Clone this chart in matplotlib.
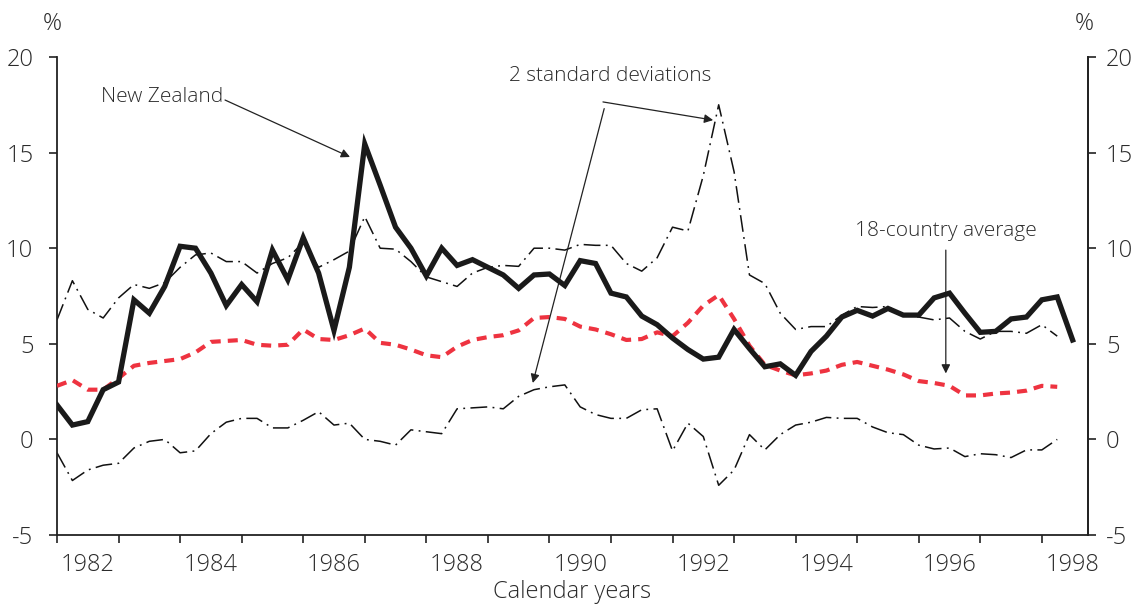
import numpy as np
import matplotlib
matplotlib.use("Agg")
import matplotlib.pyplot as plt

plt.rcParams['font.family'] = ['Open Sans', 'DejaVu Sans']
plt.rcParams['font.weight'] = 'light'
plt.rcParams['axes.labelweight'] = 'light'

# ---- data (quarterly, starting 1982 Q1) ----
start_year = 1982.0
new_zealand = [1.8, 0.75, 0.93, 2.6, 3.0, 7.3, 6.6, 8.0, 10.1, 10.0, 8.7, 7.0, 8.1, 7.2,
               9.9, 8.35, 10.55, 8.7, 5.7, 9.0, 15.45, 13.3, 11.1, 10.0, 8.55, 10.0, 9.1,
               9.4, 9.0, 8.6, 7.9, 8.6, 8.65, 8.05, 9.35, 9.2, 7.65, 7.45, 6.45, 6.0, 5.3,
               4.7, 4.2, 4.3, 5.75, 4.75, 3.8, 3.95, 3.35, 4.6, 5.4, 6.4, 6.75, 6.45, 6.85,
               6.5, 6.5, 7.4, 7.65, 6.6, 5.6, 5.65, 6.3, 6.4, 7.3, 7.45, 5.2]
average_18 = [2.8, 3.1, 2.6, 2.6, 3.2, 3.85, 4.0, 4.1, 4.2, 4.55, 5.1, 5.15, 5.2, 4.95,
              4.9, 4.95, 5.75, 5.25, 5.2, 5.45, 5.8, 5.05, 4.95, 4.7, 4.4, 4.3, 4.85, 5.2,
              5.35, 5.45, 5.7, 6.35, 6.4, 6.3, 5.9, 5.75, 5.5, 5.2, 5.25, 5.6, 5.4, 6.1,
              7.0, 7.55, 6.3, 4.9, 3.9, 3.6, 3.35, 3.45, 3.6, 3.9, 4.05, 3.85, 3.65, 3.4,
              3.05, 2.95, 2.8, 2.3, 2.3, 2.4, 2.45, 2.55, 2.8, 2.75]
upper_2sd = [6.25, 8.3, 6.8, 6.35, 7.4, 8.1, 7.9, 8.2, 9.0, 9.65, 9.75, 9.3, 9.3, 8.7,
             9.2, 9.5, 10.3, 9.0, 9.4, 9.85, 11.65, 10.0, 9.95, 9.3, 8.5, 8.25, 8.0, 8.7,
             9.0, 9.1, 9.05, 10.0, 10.0, 9.9, 10.2, 10.15, 10.15, 9.2, 8.8, 9.5, 11.1,
             10.9, 13.8, 17.5, 14.0, 8.6, 8.15, 6.6, 5.75, 5.9, 5.9, 6.5, 6.95, 6.9, 6.95,
             6.5, 6.4, 6.25, 6.35, 5.65, 5.25, 5.65, 5.65, 5.55, 6.0, 5.4]
lower_2sd = [-0.7, -2.15, -1.6, -1.35, -1.25, -0.45, -0.1, 0.0, -0.7, -0.6, 0.3, 0.9, 1.1,
             1.1, 0.6, 0.6, 1.0, 1.45, 0.75, 0.85, 0.0, -0.1, -0.3, 0.5, 0.4, 0.3, 1.6,
             1.65, 1.7, 1.6, 2.25, 2.6, 2.75, 2.85, 1.7, 1.3, 1.1, 1.1, 1.55, 1.6, -0.6,
             0.85, 0.15, -2.4, -1.6, 0.25, -0.55, 0.25, 0.75, 0.9, 1.15, 1.1, 1.1, 0.65,
             0.35, 0.25, -0.3, -0.5, -0.45, -0.9, -0.75, -0.8, -0.95, -0.55, -0.55, 0.0]
year_labels = ['1982', '1984', '1986', '1988', '1990', '1992', '1994', '1996', '1998']
y_ticks = [-5, 0, 5, 10, 15, 20]


def quarters(n):
    return start_year + 0.25 * np.arange(n)


TXT = '#2b2b2b'
AX = '#222222'
RED = '#ee3340'

fig = plt.figure(figsize=(11.37, 6.08), dpi=100)
ax = fig.add_axes([57 / 1137, 1 - 535 / 608, (1088 - 57) / 1137, (535 - 57) / 608])

ax.plot(quarters(len(upper_2sd)), upper_2sd, color='#111111', lw=1.1,
        dashes=(11, 3.5, 1.2, 3.5), zorder=2)
ax.plot(quarters(len(lower_2sd)), lower_2sd, color='#111111', lw=1.1,
        dashes=(11, 3.5, 1.2, 3.5), zorder=2)
ax.plot(quarters(len(average_18)), average_18, color=RED, lw=3.0,
        dashes=(2.4, 1.7), zorder=3)
ax.plot(quarters(len(new_zealand)), new_zealand, color='#1a1a1a', lw=3.8,
        solid_joinstyle='miter', zorder=4)

ax.set_xlim(1982.0, 1998.75)
ax.set_ylim(-5, 20)

ax.spines['top'].set_visible(False)
for s in ['left', 'right', 'bottom']:
    ax.spines[s].set_color(AX)
    ax.spines[s].set_linewidth(1.3)

# x ticks: year boundaries with marks, labels centred within the year
ax.set_xticks(np.arange(1982, 1999))
ax.set_xticklabels([])
ax.tick_params(axis='x', which='major', direction='out', length=6, width=1.2, color=AX)
lab_pos = [int(t) + 0.5 for t in year_labels]
ax.set_xticks(lab_pos, minor=True)
ax.set_xticklabels(year_labels, minor=True)
ax.tick_params(axis='x', which='minor', length=0, pad=13, labelsize=17, labelcolor=TXT)

ax.set_yticks(y_ticks)
ax.set_yticklabels([str(v) for v in y_ticks])
ax.tick_params(axis='y', direction='out', length=6, width=1.2, color=AX,
               labelsize=17, labelcolor=TXT, pad=11)

ax2 = ax.twinx()
ax2.set_ylim(-5, 20)
ax2.set_yticks(y_ticks)
ax2.set_yticklabels([str(v) for v in y_ticks])
ax2.tick_params(axis='y', direction='out', length=6, width=1.2, color=AX,
                labelsize=17, labelcolor=TXT, pad=7)
for s in ['top', 'left', 'bottom']:
    ax2.spines[s].set_visible(False)
ax2.spines['right'].set_color(AX)
ax2.spines['right'].set_linewidth(1.3)

ax.set_xlabel('Calendar years', fontsize=17, color=TXT, labelpad=2, fontweight='light')

fig.text(52 / 1137, 1 - 24 / 608, '%', fontsize=17, color=TXT, ha='center', va='center')
fig.text(1084 / 1137, 1 - 24 / 608, '%', fontsize=17, color=TXT, ha='center', va='center')

arrow = dict(arrowstyle='-|>', lw=0.9, color=AX, mutation_scale=13,
             shrinkA=0, shrinkB=0)

ax.text(1982.72, 17.9, 'New Zealand', fontsize=15, color=TXT, ha='left', va='center')
ax.annotate('', xy=(1986.76, 14.77), xytext=(1984.73, 17.75), arrowprops=arrow)

ax.text(1990.98, 19.0, '2 standard deviations', fontsize=15, color=TXT,
        ha='center', va='center')
ax.annotate('', xy=(1992.66, 16.7), xytext=(1990.87, 17.65), arrowprops=arrow)
ax.annotate('', xy=(1989.73, 2.95), xytext=(1990.89, 17.3), arrowprops=arrow)

ax.text(1996.44, 10.9, '18-country average', fontsize=15, color=TXT,
        ha='center', va='center')
ax.annotate('', xy=(1996.44, 3.45), xytext=(1996.44, 9.9), arrowprops=arrow)

fig.savefig('out.png', dpi=100)
